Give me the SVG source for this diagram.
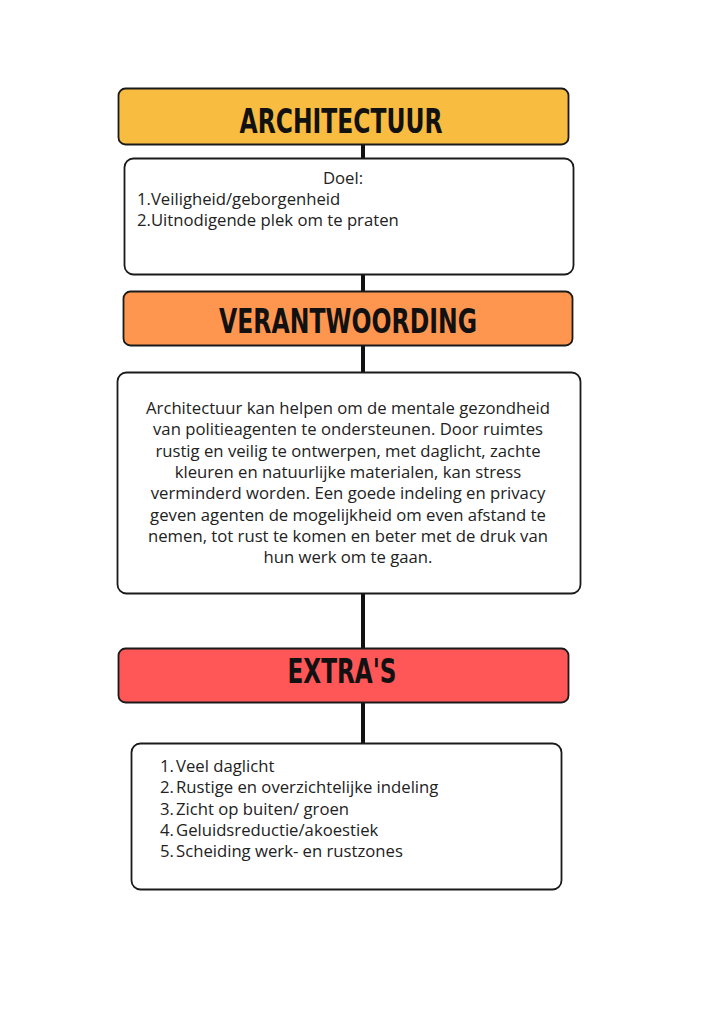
<svg xmlns="http://www.w3.org/2000/svg" width="724" height="1024" viewBox="0 0 724 1024">
<style>
.box{stroke:#1a1a1a;stroke-width:1.8}
.title{font-family:"DejaVu Sans Condensed","DejaVu Sans",sans-serif;font-weight:bold;font-size:33px;fill:#111;text-anchor:middle}
.body{font-family:"Open Sans",sans-serif;fill:#222;font-size:16.7px}
.conn{stroke:#111;stroke-width:4;fill:none}
</style>
<rect width="724" height="1024" fill="#fff"/>
<g id="connectors">
<line class="conn" x1="363" y1="144" x2="363" y2="158"/>
<line class="conn" x1="363" y1="275" x2="363" y2="291"/>
<line class="conn" x1="363" y1="346" x2="363" y2="372"/>
<line class="conn" x1="363" y1="594" x2="363" y2="648"/>
<line class="conn" x1="363" y1="703" x2="363" y2="743"/>
</g>
<g id="architectuur">
<rect class="box" x="118.5" y="88.5" width="450" height="56" rx="7" fill="#F8BC40"/>
<text class="title" x="341" y="133" textLength="203" lengthAdjust="spacingAndGlyphs">ARCHITECTUUR</text>
</g>
<g id="doel">
<rect class="box" x="124.5" y="158.5" width="449" height="116" rx="9" fill="#fff"/>
<text class="body" x="343" y="184" text-anchor="middle">Doel:</text>
<text class="body" x="137" y="205">1.Veiligheid/geborgenheid</text>
<text class="body" x="137" y="226">2.Uitnodigende plek om te praten</text>
</g>
<g id="verantwoording">
<rect class="box" x="123.5" y="291.5" width="449" height="54" rx="7" fill="#FF9650"/>
<text class="title" x="348" y="333" textLength="258" lengthAdjust="spacingAndGlyphs">VERANTWOORDING</text>
</g>
<g id="verantwoording-tekst">
<rect class="box" x="117.5" y="372.5" width="463" height="221" rx="9" fill="#fff"/>
<g class="body" text-anchor="middle">
<text x="348" y="414">Architectuur kan helpen om de mentale gezondheid</text>
<text x="348" y="435.3">van politieagenten te ondersteunen. Door ruimtes</text>
<text x="348" y="456.6">rustig en veilig te ontwerpen, met daglicht, zachte</text>
<text x="348" y="477.9">kleuren en natuurlijke materialen, kan stress</text>
<text x="348" y="499.2">verminderd worden. Een goede indeling en privacy</text>
<text x="348" y="520.5">geven agenten de mogelijkheid om even afstand te</text>
<text x="348" y="541.8">nemen, tot rust te komen en beter met de druk van</text>
<text x="348" y="563.1">hun werk om te gaan.</text>
</g>
</g>
<g id="extras">
<rect class="box" x="118.5" y="648.5" width="450" height="54" rx="7" fill="#FF5757"/>
<text class="title" x="342" y="683" textLength="109" lengthAdjust="spacingAndGlyphs">EXTRA'S</text>
</g>
<g id="extras-lijst">
<rect class="box" x="131.5" y="743.5" width="430" height="146" rx="9" fill="#fff"/>
<g class="body">
<text x="160" y="772">1.</text><text x="176" y="772">Veel daglicht</text>
<text x="160" y="793.3">2.</text><text x="176" y="793.3">Rustige en overzichtelijke indeling</text>
<text x="160" y="814.6">3.</text><text x="176" y="814.6">Zicht op buiten/ groen</text>
<text x="160" y="835.9">4.</text><text x="176" y="835.9">Geluidsreductie/akoestiek</text>
<text x="160" y="857.2">5.</text><text x="176" y="857.2">Scheiding werk- en rustzones</text>
</g>
</g>
</svg>
